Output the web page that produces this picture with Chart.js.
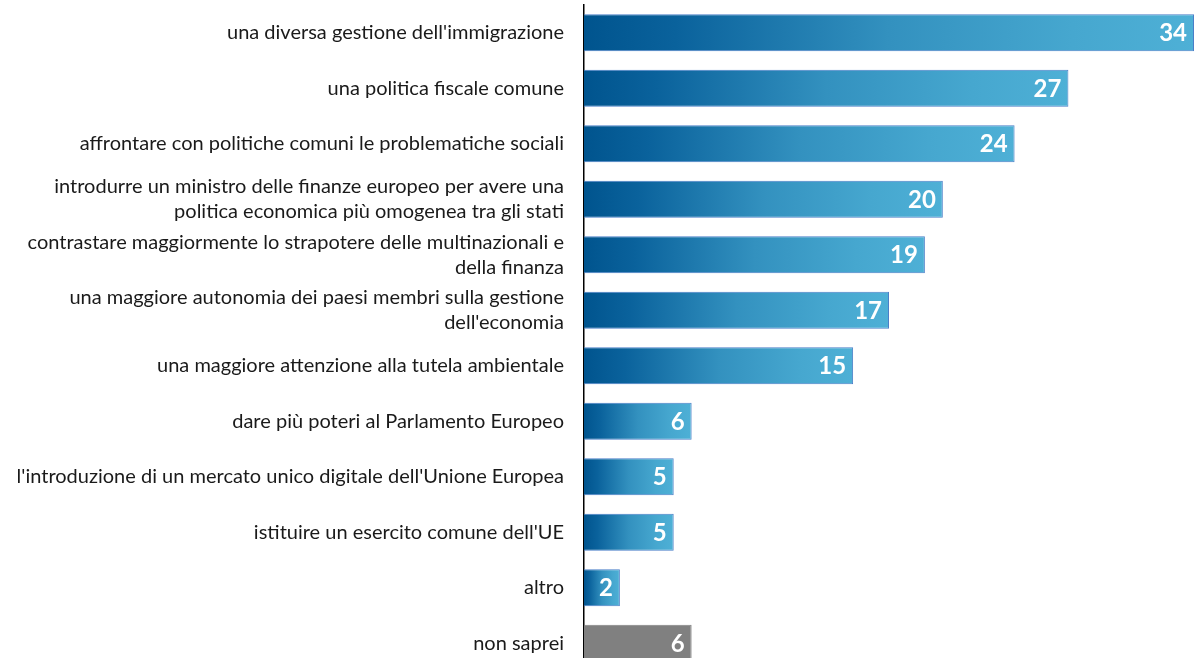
<!DOCTYPE html>
<html><head><meta charset="utf-8">
<script src="https://cdn.jsdelivr.net/npm/chart.js@4/dist/chart.umd.min.js"></script>
<style>
html,body{margin:0;padding:0;background:#fff;overflow:hidden;}
#wrap{position:relative;width:1195px;height:671px;}
</style></head>
<body><div id="wrap"><canvas id="c"></canvas></div>
<script>
const categories = [
  "una diversa gestione dell'immigrazione",
  "una politica fiscale comune",
  "affrontare con politiche comuni le problematiche sociali",
  ["introdurre un ministro delle finanze europeo per avere una", "politica economica più omogenea tra gli stati"],
  ["contrastare maggiormente lo strapotere delle multinazionali e", "della finanza"],
  ["una maggiore autonomia dei paesi membri sulla gestione", "dell'economia"],
  "una maggiore attenzione alla tutela ambientale",
  "dare più poteri al Parlamento Europeo",
  "l'introduzione di un mercato unico digitale dell'Unione Europea",
  "istituire un esercito comune dell'UE",
  "altro",
  "non saprei"
];
const values = [34, 27, 24, 20, 19, 17, 15, 6, 5, 5, 2, 6];
const grayIndex = 11;

const valueLabels = {
  id: 'valueLabels',
  afterDatasetsDraw(chart) {
    const ctx = chart.ctx;
    const meta = chart.getDatasetMeta(0);
    ctx.save();
    ctx.font = 'bold 24px Lato, "Open Sans", sans-serif';
    ctx.fillStyle = '#ffffff';
    ctx.textAlign = 'right';
    ctx.textBaseline = 'middle';
    meta.data.forEach((bar, i) => {
      ctx.fillText(String(values[i]), bar.x - 7, bar.y + 1);
    });
    ctx.restore();
  }
};

new Chart(document.getElementById('c'), {
  type: 'bar',
  data: {
    labels: categories,
    datasets: [{
      data: values,
      backgroundColor: (c) => {
        if (c.dataIndex === grayIndex) return '#808080';
        const chart = c.chart;
        if (!chart.chartArea) return '#2a88b5';
        const xs = chart.scales.x;
        const x0 = xs.getPixelForValue(0);
        const x1 = xs.getPixelForValue(c.raw);
        const g = chart.ctx.createLinearGradient(x0, 0, x1, 0);
        g.addColorStop(0, '#00548e');
        g.addColorStop(0.15, '#0a629c');
        g.addColorStop(0.5, '#3391bf');
        g.addColorStop(0.8, '#46a7cf');
        g.addColorStop(1, '#4eb0d6');
        return g;
      },
      borderColor: (c) => c.dataIndex === grayIndex ? '#808080' : '#4a7fc8',
      borderWidth: 1,
      borderSkipped: 'start',
      categoryPercentage: 1,
      barPercentage: 0.67
    }]
  },
  options: {
    indexAxis: 'y',
    responsive: true,
    maintainAspectRatio: false,
    animation: false,
    layout: { padding: { top: 5, right: 1, bottom: 0, left: 0 } },
    plugins: { legend: { display: false }, tooltip: { enabled: false } },
    scales: {
      x: { display: false, min: 0, max: 34 },
      y: {
        afterFit: (axis) => { axis.width = 584; axis.paddingTop = 0; axis.paddingBottom = 0; },
        grid: { display: false, drawTicks: false },
        border: { display: true, color: '#000000', width: 1.5 },
        ticks: {
          color: '#1a1a1a',
          padding: 20,
          font: { family: 'Lato, "Open Sans", sans-serif', size: 20, lineHeight: 1.25 },
          autoSkip: false
        }
      }
    }
  },
  plugins: [valueLabels]
});
</script></body></html>
